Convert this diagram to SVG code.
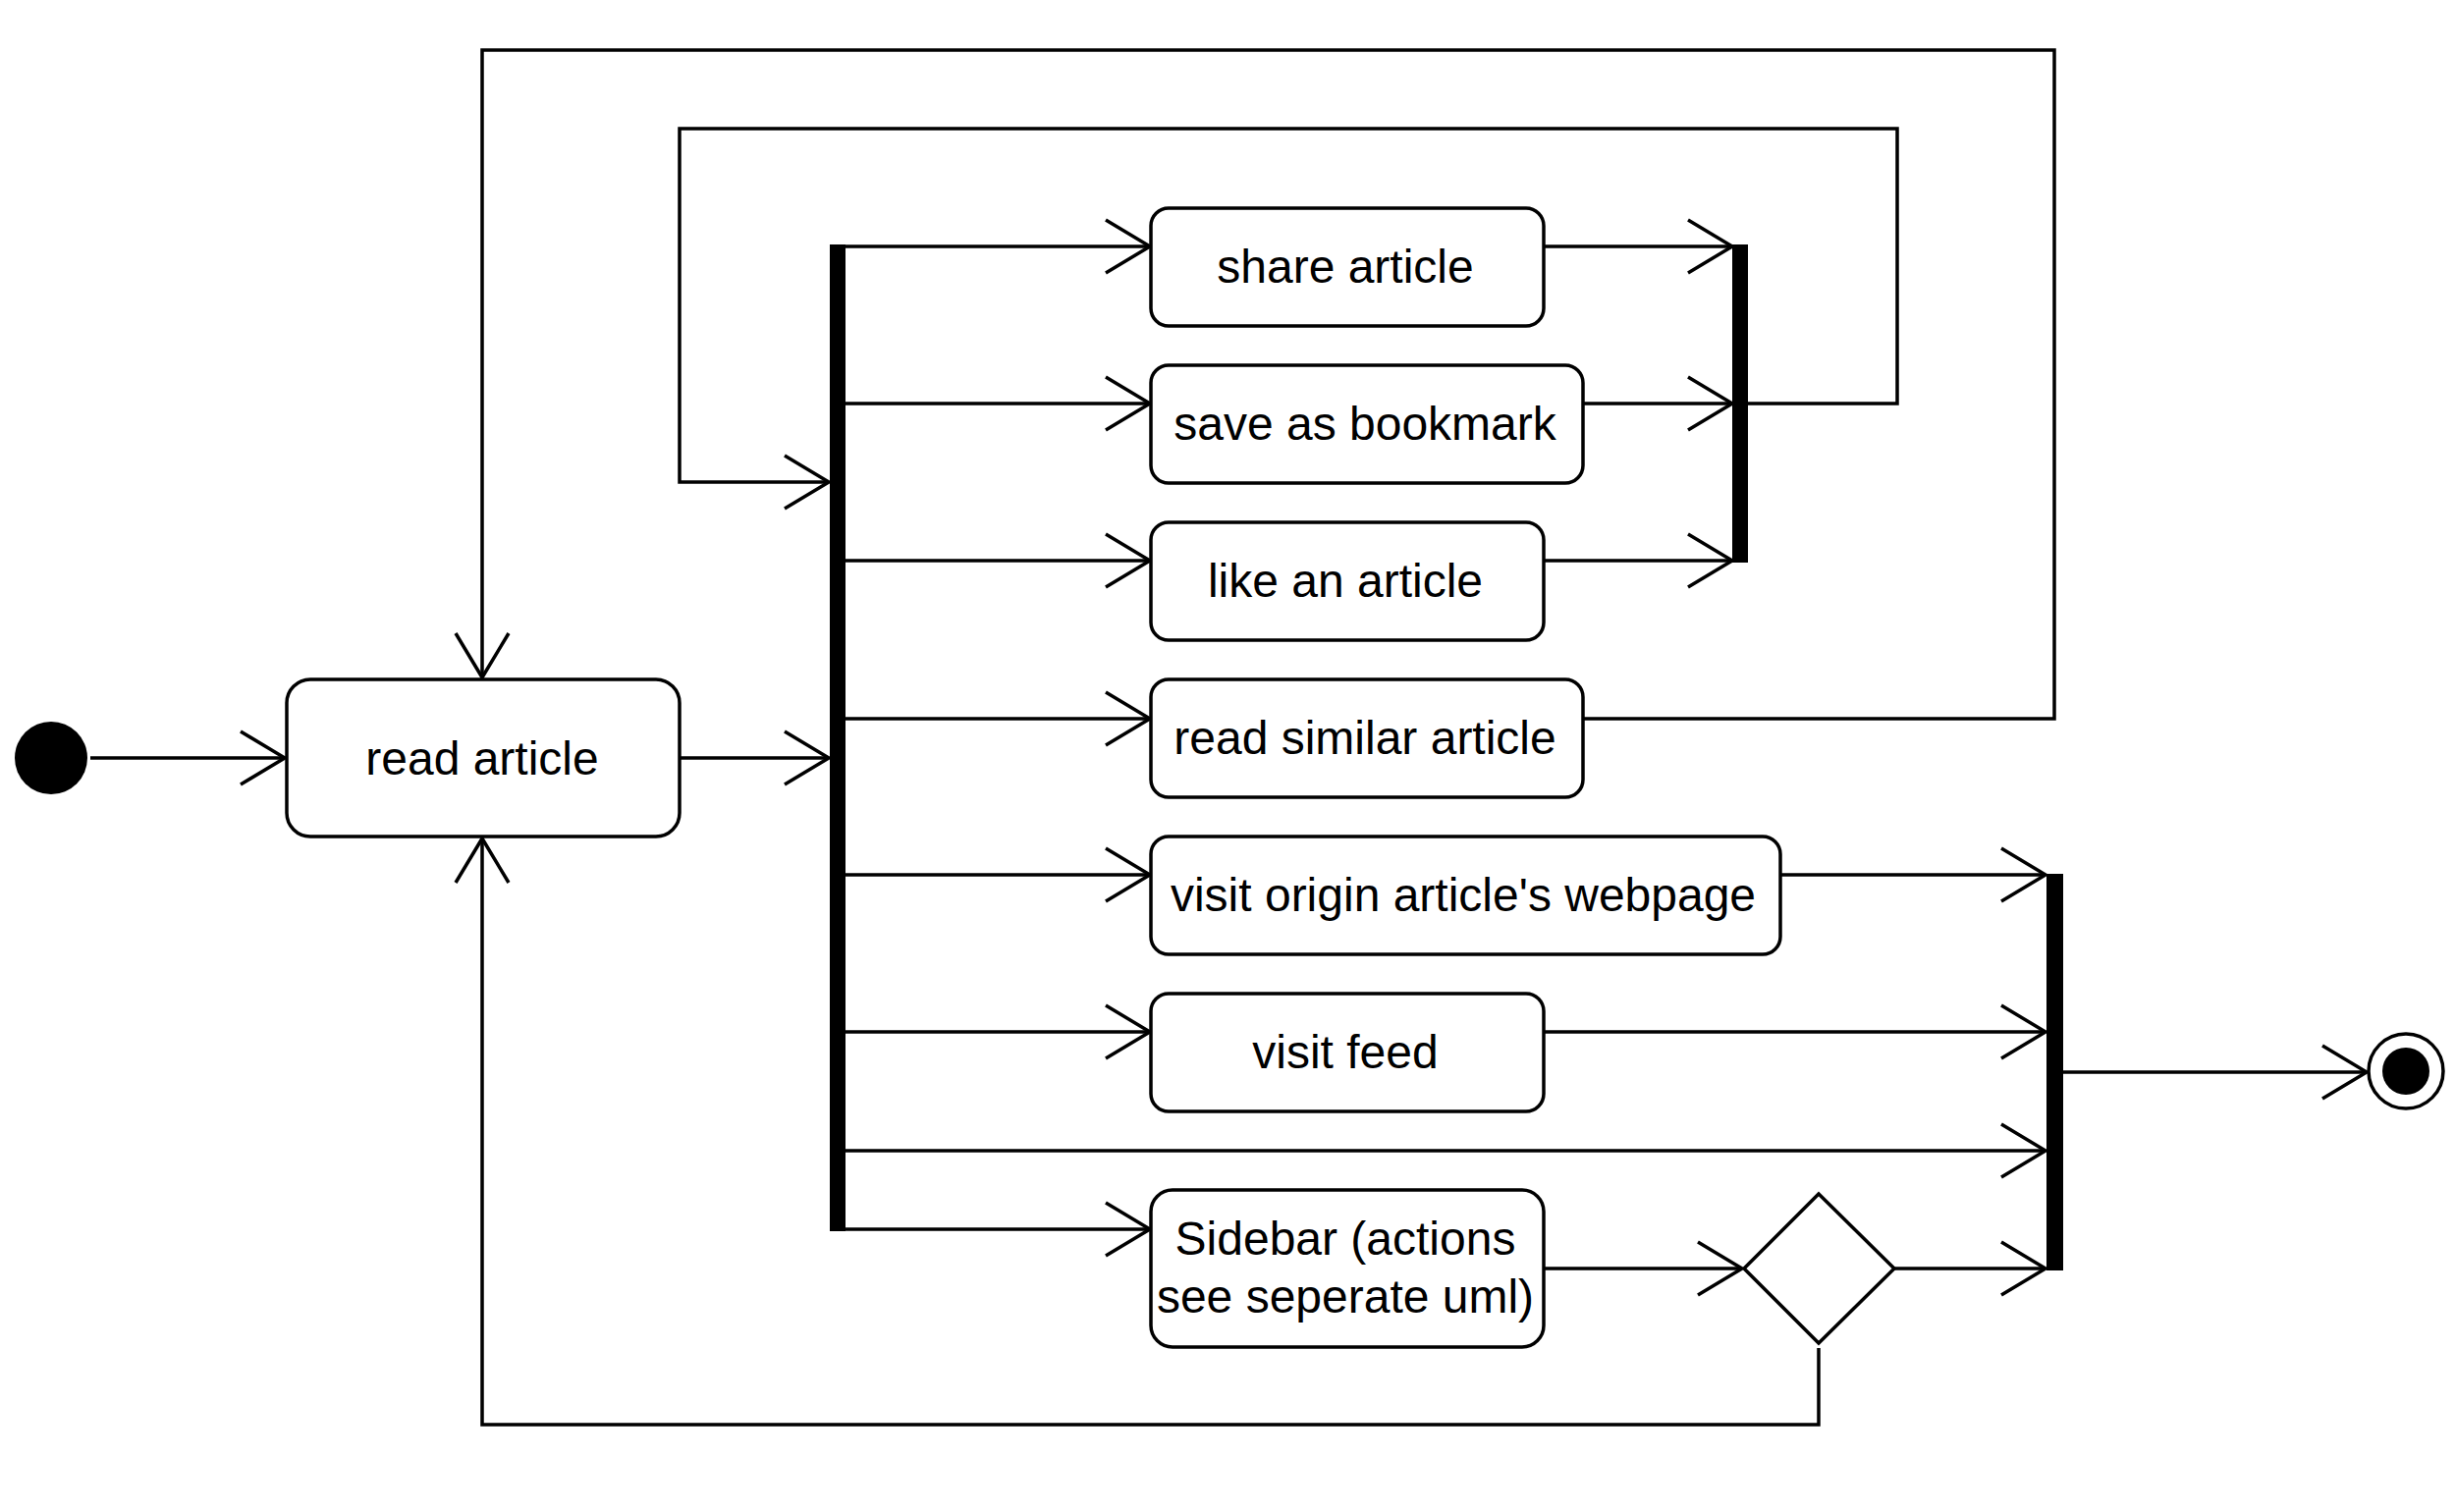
<svg xmlns="http://www.w3.org/2000/svg" width="2500" height="1540" viewBox="0 0 2500 1540">
<style>
.box{fill:#fff;stroke:#000;stroke-width:3.5}
.lbl{font-family:"Liberation Sans",Arial,sans-serif;font-size:48px;fill:#000;text-anchor:middle}
.edge{fill:none;stroke:#000;stroke-width:3.5}
.bar{fill:#000}
</style>
<defs>
<marker id="arr" markerUnits="userSpaceOnUse" viewBox="-50 -32 56 64" markerWidth="56" markerHeight="64" refX="0" refY="0" orient="auto">
<path d="M-45,-27 L0,0 L-45,27" fill="none" stroke="#000" stroke-width="3.5"/>
</marker>
</defs>
<rect width="2500" height="1540" fill="#fff"/>
<g id="connectors">
<line class="edge" x1="92" y1="772" x2="290" y2="772" marker-end="url(#arr)"/>
<line class="edge" x1="692" y1="772" x2="844" y2="772" marker-end="url(#arr)"/>
<line class="edge" x1="853" y1="251" x2="1171" y2="251" marker-end="url(#arr)"/>
<line class="edge" x1="853" y1="411" x2="1171" y2="411" marker-end="url(#arr)"/>
<line class="edge" x1="853" y1="571" x2="1171" y2="571" marker-end="url(#arr)"/>
<line class="edge" x1="853" y1="732" x2="1171" y2="732" marker-end="url(#arr)"/>
<line class="edge" x1="853" y1="891" x2="1171" y2="891" marker-end="url(#arr)"/>
<line class="edge" x1="853" y1="1051" x2="1171" y2="1051" marker-end="url(#arr)"/>
<line class="edge" x1="853" y1="1172" x2="2083" y2="1172" marker-end="url(#arr)"/>
<line class="edge" x1="853" y1="1252" x2="1171" y2="1252" marker-end="url(#arr)"/>
<line class="edge" x1="1572" y1="251" x2="1764" y2="251" marker-end="url(#arr)"/>
<line class="edge" x1="1612" y1="411" x2="1764" y2="411" marker-end="url(#arr)"/>
<line class="edge" x1="1572" y1="571" x2="1764" y2="571" marker-end="url(#arr)"/>
<polyline class="edge" points="1772,411 1932,411 1932,131 692,131 692,491 844,491" marker-end="url(#arr)"/>
<polyline class="edge" points="1612,732 2092,732 2092,51 491,51 491,690" marker-end="url(#arr)"/>
<line class="edge" x1="1813" y1="891" x2="2083" y2="891" marker-end="url(#arr)"/>
<line class="edge" x1="1572" y1="1051" x2="2083" y2="1051" marker-end="url(#arr)"/>
<line class="edge" x1="1572" y1="1292" x2="1774" y2="1292" marker-end="url(#arr)"/>
<line class="edge" x1="1929" y1="1292" x2="2083" y2="1292" marker-end="url(#arr)"/>
<polyline class="edge" points="1852,1373 1852,1451 491,1451 491,854" marker-end="url(#arr)"/>
<line class="edge" x1="2100" y1="1092" x2="2410" y2="1092" marker-end="url(#arr)"/>
</g>
<g id="start"><circle cx="52" cy="772" r="37" fill="#000"/></g>
<g id="read-article"><rect class="box" x="292" y="692" width="400" height="160" rx="24"/><text class="lbl" x="491" y="789">read article</text></g>
<g id="fork"><rect class="bar" x="845" y="249" width="16" height="1005"/></g>
<g id="share-article"><rect class="box" x="1172" y="212" width="400" height="120" rx="18"/><text class="lbl" x="1370" y="288">share article</text></g>
<g id="save-bookmark"><rect class="box" x="1172" y="372" width="440" height="120" rx="18"/><text class="lbl" x="1390" y="448">save as bookmark</text></g>
<g id="like-article"><rect class="box" x="1172" y="532" width="400" height="120" rx="18"/><text class="lbl" x="1370" y="608">like an article</text></g>
<g id="read-similar"><rect class="box" x="1172" y="692" width="440" height="120" rx="18"/><text class="lbl" x="1390" y="768">read similar article</text></g>
<g id="visit-origin"><rect class="box" x="1172" y="852" width="641" height="120" rx="18"/><text class="lbl" x="1490" y="928">visit origin article's webpage</text></g>
<g id="visit-feed"><rect class="box" x="1172" y="1012" width="400" height="120" rx="18"/><text class="lbl" x="1370" y="1088">visit feed</text></g>
<g id="sidebar"><rect class="box" x="1172" y="1212" width="400" height="160" rx="22"/><text class="lbl" x="1370" y="1278">Sidebar (actions</text><text class="lbl" x="1370" y="1337">see seperate uml)</text></g>
<g id="join-top"><rect class="bar" x="1764" y="249" width="16" height="324"/></g>
<g id="decision"><polygon points="1852,1216 1929,1292 1852,1368 1776,1292" fill="#fff" stroke="#000" stroke-width="3.5"/></g>
<g id="join-bottom"><rect class="bar" x="2084" y="890" width="17" height="404"/></g>
<g id="end"><circle cx="2450" cy="1091" r="38" fill="#fff" stroke="#000" stroke-width="3.5"/><circle cx="2450" cy="1091" r="24" fill="#000"/></g>
</svg>
